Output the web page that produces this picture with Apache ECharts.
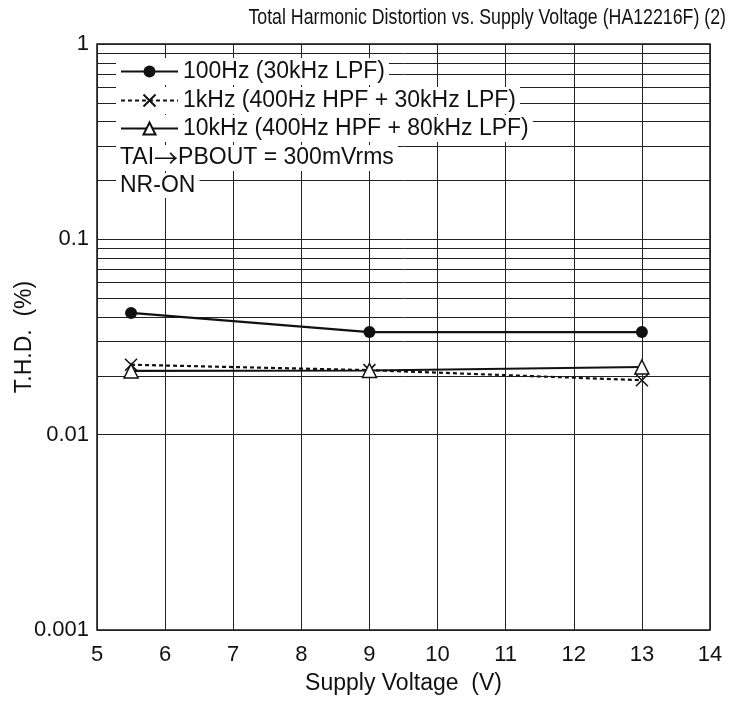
<!DOCTYPE html>
<html><head><meta charset="utf-8">
<script src="https://cdn.jsdelivr.net/npm/echarts@6/dist/echarts.min.js"></script>
<style>html,body{margin:0;padding:0;background:#fff}#c{width:731px;height:704px}</style>
</head><body><div id="c"></div>
<script>
const voltages = [5.5, 9, 13];
const thd100Hz = [0.042, 0.0335, 0.0335];
const thd1kHz = [0.0228, 0.0214, 0.019];
const thd10kHz = [0.0212, 0.0213, 0.0222];
const seriesNames = ['100Hz (30kHz LPF)', '1kHz (400Hz HPF + 30kHz LPF)', '10kHz (400Hz HPF + 80kHz LPF)'];
const yTickLabels = {'1': '1', '0.1': '0.1', '0.01': '0.01', '0.001': '0.001'};
const decades = [0.001, 0.01, 0.1];
const minorMultipliers = [2, 3, 4, 5, 6, 7, 8, 9];
const noteLines = ['TAI{a|\u2192}PBOUT = 300mVrms', 'NR-ON'];
const titleText = 'Total Harmonic Distortion vs. Supply Voltage (HA12216F) (2)';

const minorValues = [];
decades.forEach(d => minorMultipliers.forEach(m => minorValues.push(+(d * m).toPrecision(3))));

const font = 'Liberation Sans, Arial, sans-serif';
const crossPath = 'path://M0,0L10,10M10,0L0,10';

function pts(ys) { return voltages.map((v, i) => [v, ys[i]]); }

const chart = echarts.init(document.getElementById('c'));
const legendTops = [58, 87, 115];
chart.setOption({
  animation: false,
  backgroundColor: '#fff',
  grid: {left: 97, right: 21, top: 44, bottom: 74, show: true, borderColor: '#111', borderWidth: 1.5,
    backgroundColor: 'transparent', containLabel: false, outerBoundsMode: 'none'},
  legend: seriesNames.map((n, i) => ({
    data: [n], left: 116, top: legendTops[i], backgroundColor: '#fff', padding: [2, 4, 2, 4],
    itemWidth: 57, itemHeight: 15, selectedMode: false, z: 20,
    textStyle: {fontFamily: font, fontSize: 23, color: '#111'}
  })),
  graphic: [
    {
      type: 'text', x: 726, y: 18, scaleX: 0.807, z: 100,
      style: {text: titleText, font: '22px ' + font, fill: '#111', textAlign: 'right', textVerticalAlign: 'middle'}
    }
  ].concat(noteLines.map((t, i) => ({
    type: 'text', left: 116, top: [145, 173][i], z: 100,
    style: {text: t, font: '23px ' + font, fill: '#111', backgroundColor: '#fff', padding: [1, 4, 1, 4],
      rich: {a: {fontFamily: 'Noto Sans CJK JP', fontSize: 24, fill: '#111'}}}
  }))),
  xAxis: {
    type: 'value', min: 5, max: 14, interval: 1,
    name: 'Supply Voltage  (V)', nameLocation: 'middle', nameGap: 42, nameMoveOverlap: false,
    nameTextStyle: {fontFamily: font, fontSize: 23, color: '#111'},
    axisLine: {show: false}, axisTick: {show: false},
    axisLabel: {fontFamily: font, fontSize: 22, color: '#111', margin: 14},
    splitLine: {show: true, lineStyle: {color: '#222', width: 1}}
  },
  yAxis: {
    type: 'log', logBase: 10, min: 0.001, max: 1,
    name: 'T.H.D.  (%)', nameLocation: 'middle', nameGap: 61, nameRotate: 90, nameMoveOverlap: false,
    nameTextStyle: {fontFamily: font, fontSize: 23, color: '#111'},
    axisLine: {show: false}, axisTick: {show: false},
    axisLabel: {fontFamily: font, fontSize: 22, color: '#111', margin: 8,
      formatter: v => yTickLabels[String(+v.toPrecision(3))] || ''},
    splitLine: {show: true, lineStyle: {color: '#222', width: 1}}
  },
  series: [
    {
      name: seriesNames[0], type: 'line', data: pts(thd100Hz), z: 5,
      symbol: 'circle', symbolSize: 12,
      itemStyle: {color: '#111'}, lineStyle: {color: '#111', width: 2.2},
      markLine: {
        silent: true, symbol: 'none', label: {show: false}, animation: false,
        lineStyle: {color: '#222', width: 1, type: 'solid'},
        data: minorValues.map(v => ({yAxis: v}))
      }
    },
    {
      name: seriesNames[1], type: 'line', data: pts(thd1kHz), z: 6,
      symbol: crossPath, symbolSize: 12, symbolKeepAspect: true,
      itemStyle: {color: '#fff', borderColor: '#111', borderWidth: 1.5},
      lineStyle: {color: '#111', width: 2.2, type: [4, 3]}
    },
    {
      name: seriesNames[2], type: 'line', data: pts(thd10kHz), z: 7,
      symbol: 'triangle', symbolSize: [14, 14],
      itemStyle: {color: '#fff', borderColor: '#111', borderWidth: 1.5},
      lineStyle: {color: '#111', width: 2.2}
    }
  ]
});
</script></body></html>
